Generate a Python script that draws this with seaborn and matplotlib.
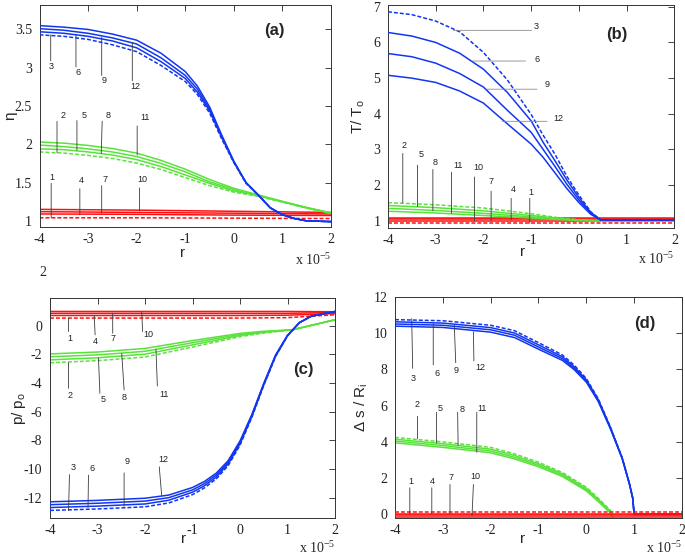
import matplotlib
matplotlib.use("Agg")
import matplotlib.pyplot as plt
import seaborn as sns

# ---------------- data (r in units of 1e-5) ----------------
# Panel (a): eta
A_r_blue = [-4, -3.5, -3, -2.5, -2, -1.5, -1, -0.75, -0.5, -0.25, 0, 0.25, 0.5, 0.75, 1, 1.25, 1.5, 2]
A_blue_3 = [3.43, 3.41, 3.37, 3.30, 3.21, 3.03, 2.82, 2.65, 2.41, 2.07, 1.76, 1.49, 1.34, 1.17, 1.08, 1.03, 1.00, 0.99]
A_blue_6 = [3.47, 3.45, 3.41, 3.35, 3.26, 3.08, 2.86, 2.68, 2.44, 2.09, 1.77, 1.50, 1.34, 1.17, 1.08, 1.03, 1.00, 0.99]
A_blue_9 = [3.51, 3.49, 3.45, 3.39, 3.31, 3.13, 2.90, 2.72, 2.46, 2.11, 1.77, 1.50, 1.34, 1.17, 1.08, 1.03, 1.00, 0.99]
A_blue_12 = [3.55, 3.53, 3.50, 3.44, 3.36, 3.19, 2.95, 2.76, 2.49, 2.12, 1.78, 1.50, 1.34, 1.17, 1.08, 1.03, 1.00, 0.99]

A_r_green = [-4, -3.5, -3, -2.5, -2, -1.5, -1, -0.5, 0, 0.5, 1, 1.5, 2]
A_green_2 = [1.90, 1.885, 1.855, 1.815, 1.755, 1.67, 1.565, 1.46, 1.375, 1.32, 1.245, 1.165, 1.095]
A_green_5 = [1.94, 1.93, 1.90, 1.86, 1.80, 1.71, 1.60, 1.49, 1.39, 1.33, 1.25, 1.17, 1.10]
A_green_8 = [1.99, 1.97, 1.94, 1.90, 1.84, 1.75, 1.64, 1.51, 1.41, 1.33, 1.25, 1.17, 1.10]
A_green_11 = [2.03, 2.015, 1.985, 1.945, 1.885, 1.79, 1.675, 1.54, 1.425, 1.34, 1.255, 1.175, 1.105]

A_r_red = [-4, -2, 0, 2]
A_red_1 = [1.04, 1.04, 1.035, 1.03]
A_red_4 = [1.09, 1.085, 1.075, 1.07]
A_red_7 = [1.12, 1.11, 1.10, 1.09]
A_red_10 = [1.15, 1.14, 1.125, 1.11]

# Panel (b): T / To
B_r_blue = [-4, -3.5, -3, -2.5, -2, -1.5, -1, -0.75, -0.5, -0.25, 0, 0.25, 0.45, 1, 2]
B_blue_3 = [6.86, 6.78, 6.60, 6.30, 5.72, 4.95, 3.98, 3.40, 2.86, 2.24, 1.72, 1.25, 1.03, 1.02, 1.02]
B_blue_6 = [6.28, 6.18, 6.00, 5.70, 5.25, 4.60, 3.80, 3.20, 2.68, 2.14, 1.65, 1.23, 1.03, 1.02, 1.02]
B_blue_9 = [5.69, 5.60, 5.42, 5.13, 4.75, 4.10, 3.48, 3.00, 2.52, 2.02, 1.58, 1.21, 1.03, 1.02, 1.02]
B_blue_12 = [5.08, 5.00, 4.88, 4.64, 4.30, 3.72, 3.15, 2.78, 2.34, 1.90, 1.51, 1.18, 1.03, 1.02, 1.02]

B_r_green = [-4, -3, -2, -1, -0.5, 0, 0.5, 2]
B_green_2 = [1.51, 1.45, 1.36, 1.20, 1.10, 1.03, 1.00, 1.00]
B_green_5 = [1.43, 1.37, 1.28, 1.15, 1.08, 1.02, 1.00, 1.00]
B_green_8 = [1.35, 1.29, 1.21, 1.11, 1.06, 1.01, 1.00, 1.00]
B_green_11 = [1.27, 1.22, 1.15, 1.08, 1.04, 1.01, 1.00, 1.00]

B_r_red = [-4, 2]
B_red_1 = [0.94, 0.94]
B_red_4 = [0.99, 0.99]
B_red_7 = [1.04, 1.04]
B_red_10 = [1.08, 1.08]

# Panel (c): p / po
C_r_blue = [-4, -3, -2, -1.5, -1, -0.75, -0.5, -0.25, 0, 0.25, 0.5, 0.75, 1, 1.25, 1.5, 2]
C_blue_3 = [-12.9, -12.8, -12.65, -12.38, -11.8, -11.33, -10.7, -9.78, -8.35, -6.4, -4.18, -2.15, -0.73, 0.2, 0.65, 0.98]
C_blue_6 = [-12.7, -12.6, -12.45, -12.19, -11.63, -11.18, -10.57, -9.66, -8.25, -6.33, -4.13, -2.12, -0.71, 0.2, 0.65, 0.98]
C_blue_9 = [-12.5, -12.4, -12.25, -12.01, -11.47, -11.03, -10.43, -9.54, -8.15, -6.27, -4.08, -2.08, -0.69, 0.2, 0.65, 0.98]
C_blue_12 = [-12.3, -12.2, -12.05, -11.83, -11.3, -10.88, -10.3, -9.43, -8.05, -6.2, -4.03, -2.05, -0.68, 0.2, 0.65, 0.98]

C_r_green = [-4, -3, -2, -1, 0, 0.5, 1.1, 2]
C_green_2 = [-2.60, -2.45, -2.20, -1.50, -0.78, -0.52, -0.30, 0.40]
C_green_5 = [-2.40, -2.25, -2.00, -1.35, -0.70, -0.48, -0.30, 0.40]
C_green_8 = [-2.18, -2.05, -1.80, -1.20, -0.62, -0.45, -0.30, 0.40]
C_green_11 = [-1.98, -1.85, -1.60, -1.05, -0.55, -0.40, -0.30, 0.40]

C_r_red = [-4, 0, 1, 1.5, 2]
C_red_1 = [0.52, 0.52, 0.55, 0.65, 0.75]
C_red_4 = [0.70, 0.70, 0.72, 0.78, 0.83]
C_red_7 = [0.85, 0.85, 0.85, 0.88, 0.90]
C_red_10 = [0.98, 0.98, 0.98, 0.97, 0.96]

# Panel (d): delta s / Ri
D_r_blue = [-4, -3, -2, -1.5, -1, -0.5, -0.25, 0, 0.25, 0.5, 0.75, 0.9, 0.97, 1.0, 2]
D_blue_3 = [10.75, 10.69, 10.44, 10.14, 9.48, 8.80, 8.23, 7.50, 6.38, 4.85, 3.13, 1.71, 0.9, 0.0, 0.0]
D_blue_6 = [10.63, 10.56, 10.31, 10.01, 9.36, 8.70, 8.14, 7.43, 6.33, 4.82, 3.11, 1.70, 0.9, 0.0, 0.0]
D_blue_9 = [10.51, 10.44, 10.19, 9.89, 9.24, 8.60, 8.06, 7.37, 6.28, 4.78, 3.09, 1.70, 0.9, 0.0, 0.0]
D_blue_12 = [10.39, 10.32, 10.06, 9.76, 9.12, 8.50, 7.98, 7.30, 6.23, 4.75, 3.08, 1.69, 0.9, 0.0, 0.0]

D_r_green = [-4, -3, -2, -1.5, -1, -0.5, 0, 0.25, 0.5, 0.55]
D_green_2 = [4.25, 4.00, 3.70, 3.34, 2.88, 2.31, 1.50, 0.89, 0.23, -0.05]
D_green_5 = [4.15, 3.90, 3.60, 3.25, 2.79, 2.24, 1.43, 0.83, 0.18, -0.08]
D_green_8 = [4.05, 3.80, 3.50, 3.15, 2.71, 2.16, 1.37, 0.77, 0.13, -0.12]
D_green_11 = [3.95, 3.70, 3.40, 3.06, 2.63, 2.09, 1.30, 0.71, 0.08, -0.15]

D_r_red = [-4, 2]
D_red_1 = [0.12, 0.12]
D_red_4 = [0.03, 0.03]
D_red_7 = [-0.06, -0.06]
D_red_10 = [-0.15, -0.15]

x_ticks = [-4, -3, -2, -1, 0, 1, 2]
A_yticks = [1, 1.5, 2, 2.5, 3, 3.5]
B_yticks = [1, 2, 3, 4, 5, 6, 7]
C_yticks = [-12, -10, -8, -6, -4, -2, 0]
D_yticks = [0, 2, 4, 6, 8, 10, 12]

# ---------------- style ----------------
sns.set_theme(style="white")
plt.rcParams["font.family"] = ["Liberation Serif", "DejaVu Serif"]
plt.rcParams["axes.unicode_minus"] = False
plt.rcParams["mathtext.fontset"] = "custom"
plt.rcParams["mathtext.rm"] = "Liberation Sans"

RED = "#ff1010"
GREEN = "#5ae23c"
BLUE = "#1236f0"
SANS = "Liberation Sans"
DASH = (0, (2.6, 1.3))
LW = 1.1

fig = plt.figure(figsize=(6.85, 5.57), dpi=100)
axA = fig.add_axes([0.0577, 0.5925, 0.4255, 0.3986])
axB = fig.add_axes([0.5664, 0.5907, 0.4182, 0.4003])
axC = fig.add_axes([0.0730, 0.0700, 0.4161, 0.3950])
axD = fig.add_axes([0.5766, 0.0700, 0.4190, 0.3968])


def draw_band(ax, r, curves, color, z):
    for i, vals in enumerate(curves):
        sns.lineplot(x=r, y=vals, ax=ax, color=color,
                     linestyle=DASH if i == 0 else "-", lw=LW,
                     estimator=None, sort=False, legend=False, zorder=z)


def leaders(ax, specs, color="#3a3a3a"):
    for lab, txy, p0, p1 in specs:
        ax.annotate("", xy=p1, xytext=p0,
                    arrowprops=dict(arrowstyle="-", lw=0.6, color=color,
                                    shrinkA=0, shrinkB=0))
        ax.text(txy[0], txy[1], lab, ha="center", va="center",
                fontsize=6.5, family=SANS, color="#222222")


def style_axes(ax, ylim, yticks, ylabel, ylab_x, panel, pxy, xlab_xy, off_y):
    ax.set_xlim(-4, 2)
    ax.set_ylim(*ylim)
    ax.set_xticks(x_ticks)
    ax.set_xticklabels([str(t) for t in x_ticks])
    ax.set_yticks(yticks)
    ax.set_yticklabels([("%g" % t) for t in yticks])
    ax.tick_params(direction="in", length=4, width=0.6, top=True, right=True,
                   labelsize=10, colors="#222222")
    ax.tick_params(axis="y", pad=5.5)
    ax.tick_params(axis="x", pad=4)
    for s in ax.spines.values():
        s.set_color("#333333")
        s.set_linewidth(0.7)
    ax.set_xlabel("r", family=SANS, fontsize=11)
    ax.xaxis.set_label_coords(*xlab_xy)
    ax.set_ylabel(ylabel, family=SANS, fontsize=11)
    ax.yaxis.set_label_coords(ylab_x, 0.5)
    ax.text(pxy[0], pxy[1], panel, transform=ax.transAxes, family=SANS,
            fontsize=12, fontweight="bold", ha="center", va="center")
    ax.text(1.0, off_y, "x 10$^{\\mathregular{-5}}$", transform=ax.transAxes,
            ha="right", va="baseline", fontsize=10)
    ax.grid(False)


# ---- panel (a)
draw_band(axA, A_r_blue, [A_blue_3, A_blue_6, A_blue_9, A_blue_12], BLUE, 3)
draw_band(axA, A_r_green, [A_green_2, A_green_5, A_green_8, A_green_11], GREEN, 2)
draw_band(axA, A_r_red, [A_red_1, A_red_4, A_red_7, A_red_10], RED, 1)
style_axes(axA, (0.92, 3.82), A_yticks, "\u03b7", -0.076, "(a)", (0.807, 0.883), (0.492, -0.085), -0.17)
leaders(axA, [
    ("3", (-3.76, 3.01), (-3.77, 3.09), (-3.77, 3.43)),
    ("6", (-3.20, 2.94), (-3.25, 3.01), (-3.25, 3.43)),
    ("9", (-2.66, 2.83), (-2.72, 2.90), (-2.72, 3.40)),
    ("12", (-2.03, 2.75), (-2.09, 2.83), (-2.09, 3.33)),
    ("2", (-3.52, 2.37), (-3.64, 2.30), (-3.64, 1.89)),
    ("5", (-3.09, 2.38), (-3.23, 2.31), (-3.23, 1.92)),
    ("8", (-2.59, 2.38), (-2.71, 2.30), (-2.73, 1.88)),
    ("11", (-1.83, 2.35), (-1.99, 2.24), (-1.99, 1.86)),
    ("1", (-3.74, 1.57), (-3.76, 1.49), (-3.76, 1.04)),
    ("4", (-3.13, 1.53), (-3.17, 1.42), (-3.17, 1.08)),
    ("7", (-2.65, 1.54), (-2.72, 1.46), (-2.72, 1.10)),
    ("10", (-1.89, 1.54), (-1.94, 1.43), (-1.94, 1.13)),
])

# ---- panel (b)
draw_band(axB, B_r_blue, [B_blue_3, B_blue_6, B_blue_9, B_blue_12], BLUE, 3)
draw_band(axB, B_r_green, [B_green_2, B_green_5, B_green_8, B_green_11], GREEN, 2)
draw_band(axB, B_r_red, [B_red_1, B_red_4, B_red_7, B_red_10], RED, 1)
style_axes(axB, (0.8, 7.05), B_yticks, "T/ T$_\\mathregular{o}$", -0.074, "(b)", (0.80, 0.869), (0.471, -0.075), -0.16)
leaders(axB, [
    ("3", (-0.89, 6.44), (-2.63, 6.34), (-0.99, 6.34)),
    ("6", (-0.87, 5.52), (-2.24, 5.48), (-1.12, 5.48)),
    ("9", (-0.66, 4.82), (-1.93, 4.69), (-0.88, 4.69)),
    ("12", (-0.43, 3.87), (-1.61, 3.79), (-0.67, 3.79)),
], color="#8a8a8a")
leaders(axB, [
    ("2", (-3.67, 3.10), (-3.69, 2.89), (-3.69, 1.50)),
    ("5", (-3.30, 2.86), (-3.38, 2.56), (-3.38, 1.40)),
    ("8", (-3.01, 2.64), (-3.06, 2.44), (-3.06, 1.28)),
    ("11", (-2.53, 2.54), (-2.67, 2.36), (-2.67, 1.21)),
    ("10", (-2.10, 2.49), (-2.19, 2.23), (-2.19, 1.00)),
    ("7", (-1.84, 2.11), (-1.84, 1.83), (-1.84, 1.00)),
    ("4", (-1.38, 1.88), (-1.42, 1.63), (-1.42, 1.02)),
    ("1", (-1.01, 1.79), (-1.03, 1.63), (-1.03, 0.93)),
])

# ---- panel (c)
draw_band(axC, C_r_blue, [C_blue_3, C_blue_6, C_blue_9, C_blue_12], BLUE, 3)
draw_band(axC, C_r_green, [C_green_2, C_green_5, C_green_8, C_green_11], GREEN, 2)
draw_band(axC, C_r_red, [C_red_1, C_red_4, C_red_7, C_red_10], RED, 1)
style_axes(axC, (-13.43, 1.92), C_yticks, "p/ p$_\\mathregular{o}$", -0.078, "(c)", (0.889, 0.673), (0.467, -0.062), -0.16)
leaders(axC, [
    ("1", (-3.58, -0.93), (-3.61, 0.51), (-3.61, -0.42)),
    ("4", (-3.04, -1.12), (-3.07, 0.70), (-3.05, -0.65)),
    ("7", (-2.67, -0.93), (-2.68, 0.86), (-2.68, -0.54)),
    ("10", (-1.93, -0.61), (-2.07, 0.98), (-2.05, -0.42)),
    ("2", (-3.58, -4.90), (-3.61, -2.58), (-3.61, -4.38)),
    ("5", (-2.88, -5.13), (-2.98, -2.25), (-2.95, -4.73)),
    ("8", (-2.44, -5.03), (-2.49, -1.95), (-2.44, -4.50)),
    ("11", (-1.61, -4.80), (-1.77, -1.65), (-1.74, -4.22)),
    ("3", (-3.51, -9.93), (-3.59, -10.40), (-3.61, -12.90)),
    ("6", (-3.12, -9.98), (-3.19, -10.44), (-3.20, -12.73)),
    ("9", (-2.37, -9.51), (-2.44, -10.28), (-2.44, -12.61)),
    ("12", (-1.61, -9.32), (-1.70, -9.86), (-1.65, -11.84)),
])

# ---- panel (d)
draw_band(axD, D_r_blue, [D_blue_3, D_blue_6, D_blue_9, D_blue_12], BLUE, 1)
draw_band(axD, D_r_green, [D_green_2, D_green_5, D_green_8, D_green_11], GREEN, 2)
draw_band(axD, D_r_red, [D_red_1, D_red_4, D_red_7, D_red_10], RED, 3)
style_axes(axD, (-0.2, 12), D_yticks, "\u0394 s / R$_\\mathregular{i}$", -0.088, "(d)", (0.871, 0.881), (0.446, -0.062), -0.16)
leaders(axD, [
    ("3", (-3.63, 7.51), (-3.65, 10.81), (-3.63, 8.06)),
    ("6", (-3.13, 7.75), (-3.20, 10.53), (-3.20, 8.25)),
    ("9", (-2.73, 7.97), (-2.76, 10.44), (-2.73, 8.37)),
    ("12", (-2.22, 8.12), (-2.36, 10.08), (-2.35, 8.47)),
    ("2", (-3.53, 6.05), (-3.53, 5.41), (-3.53, 4.16)),
    ("5", (-3.06, 5.83), (-3.13, 5.64), (-3.13, 3.94)),
    ("8", (-2.60, 5.81), (-2.69, 5.64), (-2.68, 3.81)),
    ("11", (-2.19, 5.86), (-2.29, 5.64), (-2.29, 3.43)),
    ("1", (-3.67, 1.84), (-3.69, 1.47), (-3.69, 0.04)),
    ("4", (-3.21, 1.84), (-3.23, 1.47), (-3.23, 0.04)),
    ("7", (-2.83, 2.02), (-2.85, 1.65), (-2.85, 0.04)),
    ("10", (-2.33, 2.11), (-2.36, 1.65), (-2.39, -0.09)),
])

# stray page number below panel (a)
fig.text(43 / 685, 1 - 272 / 557, "2", ha="center", va="center", fontsize=10)

fig.savefig("out.png", dpi=100, facecolor="white")
